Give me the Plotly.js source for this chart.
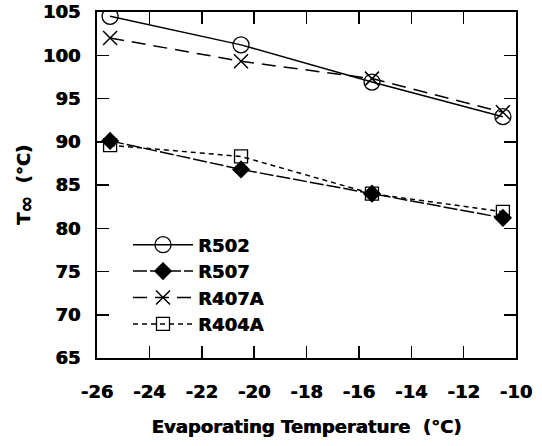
<!DOCTYPE html>
<html>
<head>
<meta charset="utf-8">
<script src="https://cdn.plot.ly/plotly-3.0.1.min.js"></script>
<style>html,body{margin:0;padding:0;background:#fff}#chart{width:542px;height:446px}</style>
</head>
<body>
<div id="chart"></div>
<script>
const evapTemp = [-25.5, -20.5, -15.5, -10.5];
const R502 = [104.5, 101.2, 96.9, 92.9];
const R507 = [90.1, 86.8, 84.0, 81.2];
const R407A = [102.0, 99.3, 97.3, 93.4];
const R404A = [89.6, 88.3, 84.0, 81.9];
const seriesNames = ['R502', 'R507', 'R407A', 'R404A'];
const xTickVals = [-26, -24, -22, -20, -18, -16, -14, -12, -10];
const xTickText = ['-26', '-24', '-22', '-20', '-18', '-16', '-14', '-12', '-10'];
const yTickVals = [65, 70, 75, 80, 85, 90, 95, 100, 105];
const yTickText = ['65', '70', '75', '80', '85', '90', '95', '100', '105'];

const bold = s => '<b>' + s + '</b>';
const font = {family: 'DejaVu Sans', weight: 700, color: '#000', shadow: '0.6px 0 0 #000'};
const traces = [
  {x: evapTemp, y: R502, name: bold(seriesNames[0]), mode: 'lines+markers',
   line: {color: '#000', width: 1.5, dash: 'solid'},
   marker: {symbol: 'circle-open', size: 16, color: '#000', line: {width: 1.3}}},
  {x: evapTemp, y: R507, name: bold(seriesNames[1]), mode: 'lines+markers',
   line: {color: '#000', width: 1.5, dash: '14px,3px'},
   marker: {symbol: 'diamond', size: 14, color: '#000'}},
  {x: evapTemp, y: R407A, name: bold(seriesNames[2]), mode: 'lines+markers',
   line: {color: '#000', width: 1.5, dash: '14px,8px'},
   marker: {symbol: 'x-thin-open', size: 14, color: '#000', line: {width: 1.5, color: '#000'}}},
  {x: evapTemp, y: R404A, name: bold(seriesNames[3]), mode: 'lines+markers',
   line: {color: '#000', width: 1.5, dash: '5px,4px'},
   marker: {symbol: 'square-open', size: 13, color: '#000', line: {width: 1.3}}}
];

const axisCommon = {
  showgrid: false, zeroline: false, showline: true, linecolor: '#000', linewidth: 2,
  mirror: 'ticks', ticks: 'inside', ticklen: 12, tickwidth: 1.5, tickcolor: '#000',
  tickmode: 'array', tickfont: Object.assign({size: 18}, font)
};

const layout = {
  width: 542, height: 446,
  margin: {l: 97, r: 26, t: 12, b: 88},
  paper_bgcolor: '#fff', plot_bgcolor: '#fff',
  showlegend: true,
  legend: {x: 0.074, y: 0.38, xanchor: 'left', yanchor: 'top', bgcolor: 'rgba(0,0,0,0)',
           font: Object.assign({size: 18}, font), itemwidth: 60, tracegroupgap: 0},
  xaxis: Object.assign({}, axisCommon, {range: [-26, -10], tickvals: xTickVals, ticktext: xTickText.map(bold),
    ticklabelstandoff: 16,
    title: {text: bold('Evaporating Temperature  (°C)'), font: Object.assign({size: 18}, font), standoff: 20}}),
  yaxis: Object.assign({}, axisCommon, {range: [65, 105], tickvals: yTickVals, ticktext: yTickText.map(bold),
    ticklabelstandoff: 11,
    title: {text: bold('T<sub><span style="font-size:20px">∞</span></sub>  (°C)'), font: Object.assign({size: 18}, font), standoff: 8}})
};

Plotly.newPlot('chart', traces, layout, {displayModeBar: false, staticPlot: true});
</script>
</body>
</html>
